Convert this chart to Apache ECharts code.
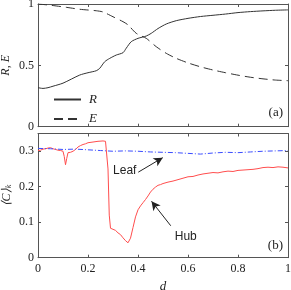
<!DOCTYPE html>
<html><head><meta charset="utf-8">
<script src="https://cdn.jsdelivr.net/npm/echarts@6/dist/echarts.min.js"></script>
<style>html,body{margin:0;padding:0;background:#fff}#c{width:291px;height:290px}</style>
</head><body><div id="c"></div>
<script>
// ---- data ----
const dR = [0,0.02,0.04,0.06,0.1,0.167,0.2,0.233,0.247,0.267,0.287,0.313,0.34,0.353,0.373,0.4,0.433,0.453,0.48,0.513,0.553,0.6,0.65,0.7,0.75,0.8,0.85,0.9,0.95,1];
const R  = [0.318,0.312,0.318,0.33,0.355,0.421,0.44,0.456,0.476,0.53,0.557,0.584,0.603,0.64,0.693,0.72,0.739,0.761,0.80,0.837,0.864,0.883,0.898,0.908,0.918,0.93,0.938,0.944,0.949,0.952];
const dE = [0,0.05,0.113,0.167,0.233,0.26,0.3,0.34,0.36,0.393,0.433,0.473,0.513,0.553,0.6,0.65,0.7,0.75,0.8,0.85,0.9,0.95,1];
const E  = [1.0,0.99,0.973,0.957,0.945,0.935,0.896,0.856,0.83,0.761,0.72,0.652,0.598,0.557,0.52,0.488,0.462,0.44,0.42,0.403,0.39,0.38,0.375];
const dHub = [0,0.01,0.02,0.03,0.04,0.05,0.06,0.07,0.08,0.09,0.1,0.105,0.11,0.115,0.12,0.13,0.14,0.15,0.16,0.17,0.18,0.19,0.2,0.22,0.24,0.26,0.27,0.275,0.28,0.285,0.29,0.3,0.31,0.32,0.33,0.34,0.35,0.36,0.365,0.37,0.38,0.39,0.4,0.41,0.42,0.43,0.44,0.45,0.46,0.47,0.48,0.49,0.5,0.52,0.54,0.56,0.58,0.6,0.62,0.64,0.66,0.68,0.7,0.72,0.74,0.76,0.78,0.8,0.82,0.84,0.86,0.88,0.9,0.92,0.94,0.96,0.98,1];
const Hub  = [0.302,0.303,0.306,0.307,0.309,0.310,0.307,0.305,0.303,0.302,0.300,0.285,0.262,0.28,0.296,0.297,0.300,0.305,0.312,0.316,0.319,0.321,0.324,0.326,0.328,0.329,0.328,0.325,0.25,0.12,0.083,0.080,0.077,0.070,0.065,0.056,0.048,0.042,0.044,0.055,0.085,0.115,0.135,0.146,0.155,0.164,0.174,0.185,0.193,0.199,0.204,0.206,0.209,0.213,0.216,0.220,0.224,0.228,0.229,0.233,0.236,0.238,0.240,0.239,0.242,0.244,0.243,0.246,0.247,0.248,0.249,0.251,0.254,0.255,0.254,0.256,0.255,0.253];
const dLeaf = [0,0.05,0.1,0.15,0.2,0.25,0.3,0.35,0.4,0.45,0.5,0.55,0.6,0.65,0.7,0.75,0.8,0.85,0.9,0.95,1];
const Leaf  = [0.308,0.307,0.305,0.306,0.304,0.302,0.300,0.301,0.300,0.298,0.297,0.296,0.294,0.292,0.295,0.297,0.296,0.298,0.300,0.301,0.302];
const xTicks = [0,0.2,0.4,0.6,0.8,1];
// annotation anchors in data coordinates: [d, value]
const leafArrow = [[0.401,0.241],[0.499,0.282]];
const hubArrow  = [[0.531,0.090],[0.454,0.159]];
const leafText = [0.347,0.244];
const hubText  = [0.591,0.0595];

const pair = (xs, ys) => xs.map((x,i)=>[x, ys[i]]);
const AX = '#555';
const serif = 'Liberation Serif';
const G0 = {left:38, right:3, top:4, height:122.7, outerBoundsMode:'none', containLabel:false};
const G1 = {left:38, right:3, top:133.5, height:124.2, outerBoundsMode:'none', containLabel:false};

function xAx(grid, pos, labels, extra){
  return Object.assign({type:'value', gridIndex:grid, position:pos, min:0, max:1, interval:0.2,
    nameMoveOverlap:false,
    axisLine:{show:true, onZero:false, lineStyle:{color:AX, width:1}},
    axisTick:{show:true, inside:true, length:3, lineStyle:{color:AX}},
    axisLabel:{show:labels, color:'#222', fontFamily:serif, fontSize:12, margin:5},
    splitLine:{show:false}}, extra||{});
}
function yAx(grid, pos, labels, max, interval, extra){
  return Object.assign({type:'value', gridIndex:grid, position:pos, min:0, max:max, interval:interval,
    nameMoveOverlap:false,
    axisLine:{show:true, onZero:false, lineStyle:{color:AX, width:1}},
    axisTick:{show:true, inside:true, length:3, lineStyle:{color:AX}},
    axisLabel:{show:labels, color:'#222', fontFamily:serif, fontSize:12, margin:4, showMaxLabel: max===1},
    splitLine:{show:false}}, extra||{});
}

const chart = echarts.init(document.getElementById('c'), null, {renderer:'canvas'});
chart.setOption({
  animation:false,
  grid:[G0, G1],
  xAxis:[
    xAx(0,'bottom',false),
    xAx(0,'top',false),
    xAx(1,'bottom',true,{name:'d', nameLocation:'middle', nameGap:22,
      nameTextStyle:{fontFamily:serif, fontStyle:'italic', fontSize:13, color:'#222'}}),
    xAx(1,'top',false)
  ],
  yAxis:[
    yAx(0,'left',true,1,0.5,{name:'R, E', nameLocation:'middle', nameGap:26,
      nameTextStyle:{fontFamily:serif, fontStyle:'italic', fontSize:12, color:'#222'}}),
    yAx(0,'right',false,1,0.5),
    yAx(1,'left',true,0.35,0.1,{name:'{a|⟨C⟩}{s|k}', nameLocation:'middle', nameGap:25,
      nameTextStyle:{color:'#222', rich:{
        a:{fontFamily:serif, fontStyle:'italic', fontSize:12, color:'#222'},
        s:{fontFamily:serif, fontStyle:'italic', fontSize:8, color:'#222', padding:[5,0,0,0]}}}}),
    yAx(1,'right',false,0.35,0.1)
  ],
  legend:{orient:'vertical', left:53, top:93, itemWidth:27, itemHeight:10, itemGap:6.5, padding:0,
    data:['R','E'], itemStyle:{opacity:0},
    textStyle:{fontFamily:serif, fontStyle:'italic', fontSize:13, color:'#222', padding:[0,0,0,3]}},
  series:[
    {name:'R', type:'line', xAxisIndex:0, yAxisIndex:0, data:pair(dR,R), symbol:'none', smooth:0.25,
      lineStyle:{color:'#333', width:1}, itemStyle:{color:'#333'}},
    {name:'E', type:'line', xAxisIndex:0, yAxisIndex:0, data:pair(dE,E), symbol:'none', smooth:0.25,
      lineStyle:{color:'#333', width:1, type:[9,5]}, itemStyle:{color:'#333'}},
    {name:'Hub', type:'line', xAxisIndex:2, yAxisIndex:2, data:pair(dHub,Hub), symbol:'none',
      lineStyle:{color:'#ff4d4d', width:1}, itemStyle:{color:'#ff4d4d'},
      markLine:{silent:true, symbol:['none','arrow'], symbolSize:[7,9], label:{show:false},
        lineStyle:{color:'#222', width:1, type:'solid'},
        data:[[{coord:hubArrow[0]},{coord:hubArrow[1]}]]},
      markPoint:{silent:true, symbol:'circle', symbolSize:0,
        label:{show:true, formatter:'Hub', fontFamily:'Liberation Sans', fontSize:12, color:'#222'},
        data:[{coord:hubText}]}},
    {name:'Leaf', type:'line', xAxisIndex:2, yAxisIndex:2, data:pair(dLeaf,Leaf), symbol:'none',
      lineStyle:{color:'#3a4cff', width:1, type:[5,2,1,2]}, itemStyle:{color:'#3a4cff'},
      markLine:{silent:true, symbol:['none','arrow'], symbolSize:[7,9], label:{show:false},
        lineStyle:{color:'#222', width:1, type:'solid'},
        data:[[{coord:leafArrow[0]},{coord:leafArrow[1]}]]},
      markPoint:{silent:true, symbol:'circle', symbolSize:0,
        label:{show:true, formatter:'Leaf', fontFamily:'Liberation Sans', fontSize:12, color:'#222'},
        data:[{coord:leafText}]}}
  ],
  graphic:[
    {type:'text', right:8, top:106, style:{text:'(a)', font:'13px "Liberation Serif"', fill:'#222'}},
    {type:'text', right:8, top:239, style:{text:'(b)', font:'13px "Liberation Serif"', fill:'#222'}}
  ]
});
</script></body></html>
